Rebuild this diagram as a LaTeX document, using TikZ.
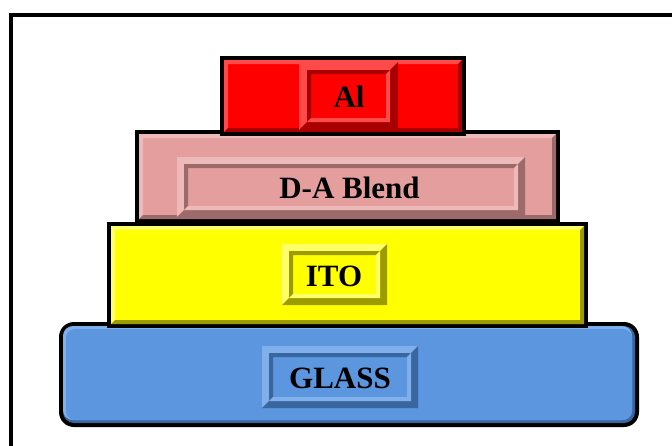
\documentclass[tikz,border=0pt]{standalone}
\usepackage{fontspec}
\setmainfont{Liberation Serif}
\definecolor{alc}{HTML}{FF0000}
\definecolor{allt}{HTML}{FF4A4A}
\definecolor{aldk}{HTML}{A80000}
\definecolor{blc}{HTML}{E49E9E}
\definecolor{bllt}{HTML}{EEB9B9}
\definecolor{bldk}{HTML}{9C6A6A}
\definecolor{itoc}{HTML}{FFFF00}
\definecolor{itolt}{HTML}{FFFF66}
\definecolor{itodk}{HTML}{9C9C00}
\definecolor{glc}{HTML}{5B96DF}
\definecolor{gllt}{HTML}{7FB0EC}
\definecolor{gldk}{HTML}{3A66A0}
% bevel: x1 y1 x2 y2 width topleftcolor bottomrightcolor
\newcommand\bev[7]{%
  \pgfmathsetmacro\bvxa{#1+#5}\pgfmathsetmacro\bvya{#2+#5}%
  \pgfmathsetmacro\bvxb{#3-#5}\pgfmathsetmacro\bvyb{#4-#5}%
  \fill[#6] (#1,#2) -- (#3,#2) -- (\bvxb,\bvya) -- (\bvxa,\bvya) -- (\bvxa,\bvyb) -- (#1,#4) -- cycle;
  \fill[#7] (#3,#4) -- (#1,#4) -- (\bvxa,\bvyb) -- (\bvxb,\bvyb) -- (\bvxb,\bvya) -- (#3,#2) -- cycle;
}
\tikzset{lbl/.style={font=\fontsize{31}{36}\selectfont\bfseries, inner sep=0pt, text=black}}
\begin{document}
\begin{tikzpicture}[x=1pt,y=-1pt]
\useasboundingbox (0,0) rectangle (672,445);
\fill[white] (0,0) rectangle (672,445);
\draw[line width=4pt] (11,447) -- (11,15) -- (674,15);

% GLASS
\fill[black, rounded corners=15] (59,322) rectangle (639,427);
\fill[gldk, rounded corners=11] (63,326) rectangle (635,423);
\fill[gllt, rounded corners=10] (63,326) rectangle (632,420);
\fill[glc, rounded corners=9] (66,329) rectangle (632,420);
\fill[glc] (262,346) rectangle (418,408);
\bev{262}{346}{418}{408}{7}{gllt}{gldk}
\bev{269}{353}{411}{401}{4}{gldk}{gllt}
\node[lbl] (glass) at (340,378) {GLASS};

% ITO
\fill[black] (107,222) rectangle (588,328);
\fill[itoc] (111,226) rectangle (584,324);
\bev{111}{226}{584}{324}{4}{itolt}{itodk}
\bev{282}{244}{387}{305}{7}{itolt}{itodk}
\bev{289}{251}{380}{298}{4}{itodk}{itolt}
\node[lbl] (ito) at (334,276) {ITO};

% D-A Blend
\fill[black] (135,130) rectangle (560,223);
\fill[blc] (139,134) rectangle (556,219);
\bev{139}{134}{556}{219}{4}{bllt}{bldk}
\bev{177}{157}{525}{217}{7}{bllt}{bldk}
\bev{184}{164}{518}{210}{4}{bldk}{bllt}
\node[lbl] (blend) at (349.5,188) {D-A Blend};

% Al
\fill[black] (220,56) rectangle (466,136);
\fill[alc] (224,60) rectangle (462,132);
\bev{224}{60}{462}{132}{4}{allt}{aldk}
\bev{299}{62}{398}{130}{8}{allt}{aldk}
\bev{307}{70}{390}{122}{4}{aldk}{allt}
\node[lbl] (al) at (349,97) {Al};
\end{tikzpicture}
\end{document}
